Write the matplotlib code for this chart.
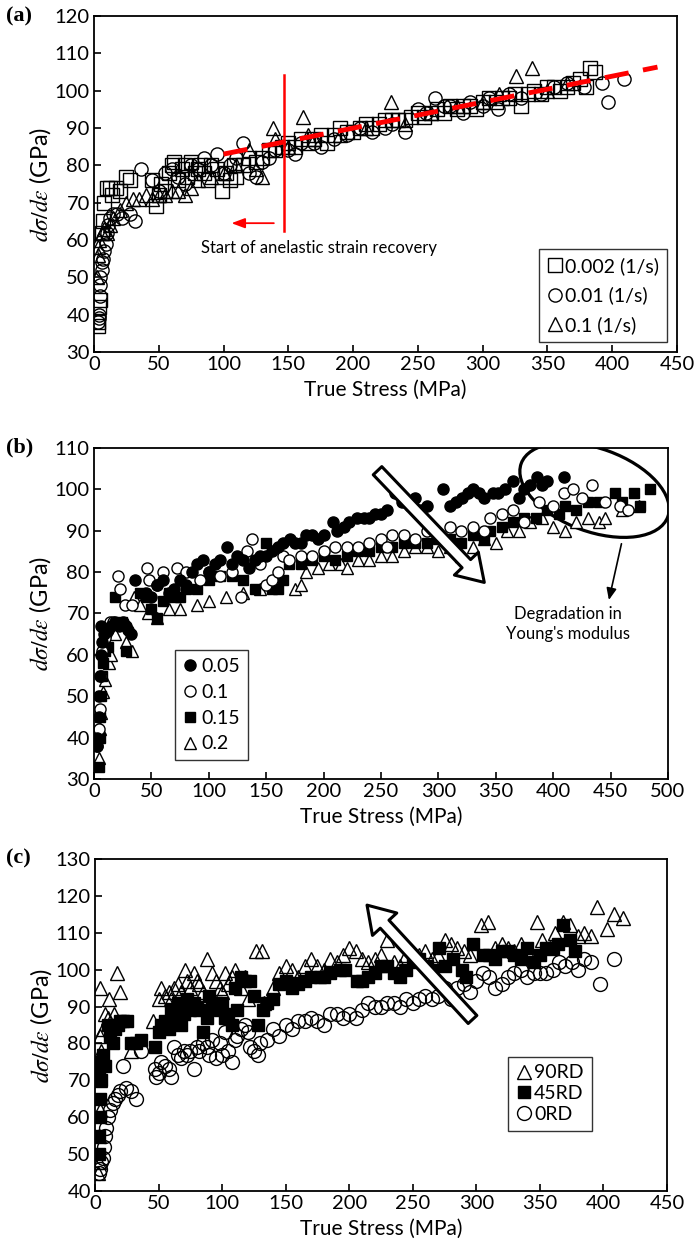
import numpy as np
import matplotlib
matplotlib.use('Agg')
import matplotlib.pyplot as plt
from matplotlib.patches import Ellipse
from matplotlib.transforms import ScaledTranslation

plt.rcParams['font.family'] = ['Lato', 'DejaVu Sans']
plt.rcParams['mathtext.fontset'] = 'stix'

# ---------------- panel (a): strain rate ----------------
a_sq_x = [3, 3, 4, 5, 6, 7, 8, 10, 12, 14, 17, 20, 25, 28, 45, 48, 50, 52, 55, 58, 60, 62, 65, 68,
          70, 72, 75, 78, 80, 82, 85, 88, 90, 95, 99, 102, 105, 108, 110, 115, 120, 125, 130, 135,
          140, 145, 150, 155, 160, 165, 170, 175, 180, 185, 190, 195, 200, 205, 210, 215, 220, 225,
          230, 235, 240, 245, 250, 255, 260, 265, 270, 275, 280, 285, 290, 295, 300, 305, 310, 315,
          320, 325, 330, 335, 340, 345, 350, 355, 360, 365, 370, 375, 380, 383, 387]
a_sq_y = [37, 38, 42, 44, 62, 65, 70, 74, 74, 72, 74, 73, 77, 76, 76, 69, 72, 75, 73, 78, 80, 81, 76, 79,
          80, 77, 81, 78, 79, 80, 78, 76, 80, 79, 73, 78, 76, 80, 77, 80, 82, 81, 82, 84,
          84, 85, 86, 85, 87, 86, 87, 88, 86, 88, 90, 89, 89, 90, 91, 90, 91, 92,
          92, 92, 92, 93, 94, 93, 94, 95, 94, 96, 95, 96, 96, 95, 97, 98, 97, 98,
          98, 99, 96, 99, 100, 99, 101, 101, 100, 101, 102, 103, 101, 106, 105]
a_ci_x = [3, 4, 4, 5, 5, 5, 6, 6, 7, 8, 9, 10, 11, 12, 15, 18, 22, 28, 32, 36, 45, 50, 55, 60, 65, 70,
          75, 80, 85, 90, 95, 100, 105, 110, 115, 120, 125, 130, 135, 140, 150, 155, 160, 170, 175,
          185, 195, 205, 215, 225, 230, 240, 250, 256, 263, 270, 275, 285, 290, 300, 305, 312, 320,
          330, 345, 355, 365, 378, 392, 397, 409]
a_ci_y = [38, 39, 40, 45, 48, 50, 52, 54, 55, 57, 59, 62, 64, 66, 67, 67, 66, 67, 65, 79, 76, 73, 78, 79,
          77, 75, 80, 79, 82, 80, 83, 78, 80, 82, 86, 78, 77, 81, 82, 84, 84, 83, 86, 86, 85,
          87, 88, 90, 89, 90, 91, 89, 95, 94, 98, 96, 96, 94, 97, 96, 98, 95, 99,
          98, 99, 101, 102, 101, 102, 97, 103]
a_tr_x = [2, 3, 3, 4, 6, 8, 10, 12, 15, 20, 25, 30, 35, 40, 45, 50, 55, 60, 65, 70, 75, 80, 90, 100,
          110, 120, 125, 130, 138, 140, 150, 161, 165, 170, 190, 210, 229, 240, 260, 280, 300, 313,
          326, 338, 350, 365]
a_tr_y = [50, 56, 58, 60, 62, 63, 62, 64, 66, 68, 70, 71, 71, 72, 71, 72, 72, 73, 73, 72, 74, 76, 77, 78,
          80, 84, 79, 77, 90, 87, 85, 93, 88, 87, 88, 90, 97, 91, 94, 96, 97, 99,
          104, 106, 100, 102]
a_fit_x = [100, 435]
a_fit_y = [83, 106.3]

# ---------------- panel (b): strain amplitude ----------------
b05_x = [3, 3, 4, 4, 5, 6, 7, 6, 9, 12, 15, 18, 22, 25, 28, 30, 32, 36, 45, 50, 55, 60, 65, 70, 75, 80,
         85, 90, 95, 100, 105, 110, 116, 120, 125, 130, 135, 140, 145, 150, 155, 160, 165, 171, 175,
         180, 185, 190, 195, 200, 208, 212, 218, 222, 229, 235, 240, 245, 250, 255, 262, 268, 275,
         280, 285, 290, 304, 310, 315, 321, 326, 330, 335, 340, 348, 352, 358, 365, 370, 375, 380,
         386, 390, 395, 409]
b05_y = [38, 40, 45, 50, 55, 60, 63, 67, 65, 66, 67, 68, 67, 68, 67, 66, 65, 78, 75, 74, 77, 78, 75, 76,
         78, 77, 80, 82, 83, 80, 82, 83, 86, 82, 84, 83, 81, 83, 84, 84, 85, 86, 87, 88, 87,
         87, 89, 89, 88, 89, 92, 90, 91, 92, 93, 93, 93, 94, 94, 95, 99, 97, 96,
         98, 95, 96, 100, 96, 97, 98, 99, 100, 99, 98, 99, 99, 100, 102, 98, 100, 101,
         103, 101, 102, 103]
b10_x = [3, 4, 5, 6, 7, 10, 14, 17, 21, 23, 27, 33, 46, 48, 55, 60, 72, 80, 92, 100, 110, 120, 128, 133,
         138, 145, 150, 155, 160, 165, 170, 180, 190, 200, 210, 220, 230, 240, 250, 255, 260, 270,
         280, 290, 300, 310, 320, 330, 340, 345, 355, 365, 375, 388, 400, 409, 417, 425, 434, 445,
         458, 465]
b10_y = [38, 42, 47, 55, 61, 64, 68, 68, 79, 76, 72, 72, 81, 78, 77, 80, 81, 80, 78, 80, 79, 80, 74, 85,
         88, 82, 77, 78, 80, 84, 83, 84, 84, 85, 86, 86, 86, 87, 88, 86, 89, 89,
         88, 90, 89, 91, 90, 91, 90, 93, 94, 95, 92, 97, 96, 99, 100, 98, 101, 97,
         96, 95]
b15_x = [4, 5, 5, 6, 7, 8, 10, 12, 18, 24, 28, 40, 45, 50, 55, 60, 65, 70, 75, 80, 90, 100, 110, 120,
         130, 140, 150, 155, 160, 165, 170, 180, 190, 200, 210, 220, 230, 240, 250, 260, 270, 280,
         290, 300, 310, 320, 330, 340, 345, 355, 365, 375, 385, 395, 405, 410, 420, 430, 440, 454,
         460, 470, 476, 484]
b15_y = [33, 40, 45, 50, 55, 58, 61, 62, 74, 68, 61, 75, 74, 71, 69, 73, 75, 74, 74, 76, 76, 78, 79, 79,
         78, 76, 87, 76, 76, 78, 82, 82, 83, 84, 83, 84, 85, 85, 86, 86, 87, 87,
         87, 88, 88, 87, 89, 88, 90, 91, 92, 93, 93, 95, 94, 96, 95, 97, 97, 99,
         97, 99, 96, 100]
b20_x = [4, 5, 6, 8, 10, 13, 15, 18, 28, 33, 35, 40, 47, 55, 65, 75, 90, 100, 115, 130, 145, 160, 175,
         180, 185, 195, 205, 215, 220, 230, 240, 250, 260, 270, 280, 290, 300, 310, 320, 330, 340,
         350, 360, 370, 380, 390, 400, 410, 420, 430, 440, 445, 460, 475]
b20_y = [35, 42, 46, 51, 54, 58, 60, 65, 63, 61, 74, 72, 70, 69, 71, 71, 72, 73, 74, 75, 76, 79, 76,
         77, 80, 81, 82, 82, 81, 83, 83, 84, 84, 85, 86, 86, 85, 86, 84, 86, 88,
         87, 90, 90, 92, 93, 91, 90, 92, 93, 92, 93, 95, 96]

# ---------------- panel (c): orientation ----------------
c90_x = [2, 3, 3, 4, 4, 5, 4, 6, 8, 10, 4, 11, 17, 20, 15, 28, 46, 50, 52, 55, 58, 60, 62, 65, 68, 71,
         72, 75, 78, 80, 82, 85, 88, 92, 95, 98, 100, 102, 105, 108, 110, 115, 118, 120, 127, 131,
         133, 140, 145, 150, 155, 160, 165, 170, 175, 180, 185, 190, 195, 200, 205, 210, 215, 220,
         225, 230, 235, 240, 245, 250, 255, 260, 265, 270, 275, 280, 285, 290, 295, 304, 309, 315,
         320, 325, 330, 335, 340, 348, 352, 358, 362, 368, 374, 380, 385, 390, 395, 403, 408, 415]
c90_y = [45, 48, 55, 62, 70, 78, 82, 84, 88, 87, 95, 92, 99, 94, 88, 78, 86, 92, 95, 93, 94, 92, 95, 96,
         94, 100, 97, 95, 99, 97, 96, 94, 103, 99, 97, 95, 94, 99, 96, 98, 100, 95, 98, 92, 105, 105,
         91, 95, 99, 101, 100, 98, 101, 103, 101, 100, 103, 102, 104, 106, 105, 103, 102, 103,
         104, 108, 102, 101, 104, 103, 104, 105, 103, 104, 108, 107, 106, 105, 104, 112, 113, 106,
         107, 106, 105, 107, 105, 113, 108, 106, 110, 113, 112, 109, 110, 109, 117, 111, 115, 114]
c45_x = [3, 3, 4, 4, 5, 3, 4, 6, 8, 10, 12, 14, 16, 18, 20, 22, 25, 28, 32, 36, 47, 50, 52, 55, 58, 60,
         62, 65, 68, 70, 72, 75, 78, 80, 82, 85, 88, 90, 92, 95, 98, 100, 102, 105, 108, 110, 112,
         115, 118, 122, 125, 128, 132, 135, 140, 145, 150, 155, 160, 165, 170, 177, 180, 185, 193,
         197, 206, 210, 215, 220, 225, 230, 235, 240, 245, 250, 255, 261, 265, 271, 275, 282, 289,
         292, 297, 305, 310, 315, 320, 325, 330, 335, 340, 345, 350, 355, 360, 364, 368, 374, 378]
c45_y = [50, 55, 60, 65, 70, 73, 75, 77, 74, 85, 82, 80, 84, 85, 86, 86, 86, 80, 80, 81, 79, 83, 85, 86,
         84, 89, 86, 91, 85, 88, 92, 89, 91, 90, 89, 83, 87, 93, 90, 91, 89, 91, 87, 88, 85, 95, 89,
         98, 97, 97, 93, 85, 89, 91, 92, 96, 97, 95, 96, 97, 98, 98, 98, 99, 100,
         100, 97, 97, 98, 99, 101, 101, 99, 98, 100, 102, 103, 101, 100, 106, 101, 103, 100,
         98, 107, 104, 104, 103, 105, 105, 104, 103, 106, 102, 104, 106, 106, 107, 112, 108, 105]
c0_x = [3, 4, 5, 6, 7, 8, 9, 10, 12, 14, 16, 18, 20, 24, 28, 32, 22, 36, 47, 48, 50, 52, 55, 58, 60, 62,
        65, 68, 70, 72, 75, 78, 80, 82, 85, 88, 90, 92, 95, 98, 100, 102, 105, 108, 110, 112, 115,
        118, 120, 122, 125, 128, 130, 135, 140, 145, 150, 155, 160, 165, 170, 175, 180, 185, 190,
        195, 200, 205, 210, 215, 220, 225, 230, 235, 240, 245, 250, 255, 260, 265, 270, 275, 280,
        285, 290, 295, 300, 305, 310, 315, 320, 325, 330, 335, 340, 345, 350, 355, 360, 365, 370,
        375, 380, 385, 390, 397, 408]
c0_y = [45, 46, 48, 49, 52, 55, 57, 60, 62, 64, 65, 66, 67, 68, 67, 65, 74, 78, 73, 71, 72, 75, 74, 73, 71,
        79, 77, 76, 78, 77, 78, 73, 79, 78, 80, 79, 77, 81, 76, 80, 77, 83, 78, 75, 81, 82, 84,
        85, 83, 79, 78, 77, 80, 81, 84, 82, 85, 84, 86, 86, 87, 86, 85, 88, 88,
        87, 88, 87, 89, 91, 90, 90, 91, 91, 90, 92, 91, 92, 93, 92, 93, 95, 92,
        95, 96, 94, 97, 99, 98, 95, 96, 98, 99, 100, 98, 99, 99, 99, 100, 102, 101,
        102, 100, 103, 102, 96, 103]

YLABEL = r'$d\sigma/d\varepsilon$ (GPa)'
XLABEL = 'True Stress (MPa)'


def style_axes(ax, xmax, ymin, ymax, xstep=50):
    ax.set_xlim(0, xmax)
    ax.set_ylim(ymin, ymax)
    ax.set_xticks(np.arange(0, xmax + 1, xstep))
    ax.set_yticks(np.arange(ymin, ymax + 1, 10))
    ax.tick_params(direction='in', length=5, width=1.2, labelsize=14.5, pad=3)
    for s in ax.spines.values():
        s.set_linewidth(1.3)
        s.set_color('black')
    ax.set_xlabel(XLABEL, fontsize=15, labelpad=5)
    ax.set_ylabel(YLABEL, fontsize=17, labelpad=1)


def hollow_arrow(ax, tail, tip):
    ax.annotate('', xy=tip, xytext=tail,
                arrowprops=dict(arrowstyle='simple,head_length=1.1,head_width=1.4,tail_width=0.5',
                                fc='white', ec='black', lw=2.2, mutation_scale=17,
                                shrinkA=0, shrinkB=0))


def box_legend(ax, handles, labels, anchor, loc, spacing):
    leg = ax.legend(handles, labels, loc=loc, bbox_to_anchor=anchor, fontsize=14, frameon=True,
                    fancybox=False, edgecolor='black', handlelength=0.8, handletextpad=0.15,
                    borderpad=0.4, labelspacing=spacing, borderaxespad=0)
    leg.get_frame().set_linewidth(1.0)


fig = plt.figure(figsize=(6.94, 12.46), dpi=100)
ax_a = fig.add_axes([0.1354, 0.7175, 0.840, 0.2697])
ax_b = fig.add_axes([0.1354, 0.3748, 0.8271, 0.2657])
ax_c = fig.add_axes([0.1369, 0.0441, 0.8242, 0.2665])

# panel (a)
open_kw = dict(ls='none', mfc='none', mec='black', mew=1.0)
ax_a.plot(a_sq_x, a_sq_y, marker='s', ms=9.5, label='0.002 (1/s)', **open_kw)
ax_a.plot(a_ci_x, a_ci_y, marker='o', ms=9.5, label='0.01 (1/s)', **open_kw)
ax_a.plot(a_tr_x, a_tr_y, marker='^', ms=10, label='0.1 (1/s)', **open_kw)
ax_a.plot(a_fit_x, a_fit_y, color='red', lw=3.5, ls=(0, (5, 3)), zorder=5)
ax_a.plot([147, 147], [62.5, 104.2], color='red', lw=1.8, zorder=5)
ax_a.annotate('', xy=(104, 64.5), xytext=(141, 64.5),
              arrowprops=dict(arrowstyle='-|>,head_length=0.8,head_width=0.3', color='red', lw=1.3))
ax_a.text(83, 57.8, 'Start of anelastic strain recovery', fontsize=12, ha='left', va='center')
style_axes(ax_a, 450, 30, 120)
h, l = ax_a.get_legend_handles_labels()
box_legend(ax_a, h, l, (0.983, 0.03), 'lower right', 0.6)

# panel (b)
ax_b.plot(b20_x, b20_y, ls='none', marker='^', ms=8, mfc='white', mec='black', mew=1.0, label='0.2')
ax_b.plot(b15_x, b15_y, ls='none', marker='s', ms=7, color='black', label='0.15')
ax_b.plot(b10_x, b10_y, ls='none', marker='o', ms=8, mfc='white', mec='black', mew=1.0, label='0.1')
ax_b.plot(b05_x, b05_y, ls='none', marker='o', ms=8, color='black', label='0.05')
hollow_arrow(ax_b, (247, 104.5), (340, 77.5))
ell = Ellipse((0, 0), 1.56, 0.83, angle=-20, fill=False, ec='black', lw=2.3,
              transform=fig.dpi_scale_trans + ScaledTranslation(436, 99.8, ax_b.transData))
ax_b.add_patch(ell)
ax_b.annotate('', xy=(448, 72.6), xytext=(460, 87.5),
              arrowprops=dict(arrowstyle='-|>,head_length=0.7,head_width=0.3', color='black', lw=1.2))
ax_b.text(413, 67.5, "Degradation in\nYoung's modulus", fontsize=12, ha='center', va='center',
          linespacing=1.35)
style_axes(ax_b, 500, 30, 110)
h, l = ax_b.get_legend_handles_labels()
box_legend(ax_b, h[::-1], l[::-1], (0.141, 0.057), 'lower left', 0.45)

# panel (c)
ax_c.plot(c90_x, c90_y, marker='^', ms=10, label='90RD', **open_kw)
ax_c.plot(c45_x, c45_y, ls='none', marker='s', ms=8, color='black', label='45RD')
ax_c.plot(c0_x, c0_y, marker='o', ms=10, label='0RD', **open_kw)
hollow_arrow(ax_c, (297, 86.5), (214, 117.5))
style_axes(ax_c, 450, 40, 130)
h, l = ax_c.get_legend_handles_labels()
box_legend(ax_c, h, l, (0.722, 0.181), 'lower left', 0.2)

# panel letters
for y, lab in [(16, '(a)'), (447, '(b)'), (858, '(c)')]:
    fig.text(6 / 694, 1 - y / 1246, lab, fontsize=16, fontweight='bold',
             family='Liberation Serif', ha='left', va='center')

fig.savefig('out.png', dpi=100, facecolor='white')
